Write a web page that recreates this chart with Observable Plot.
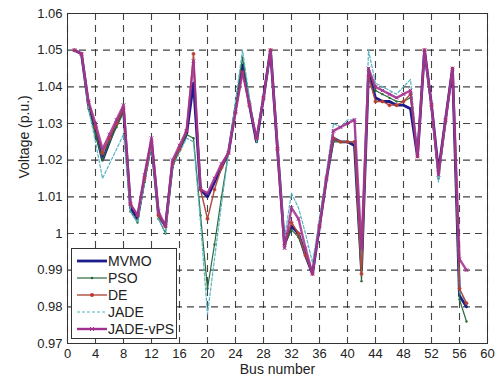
<!DOCTYPE html>
<html>
<head>
<meta charset="utf-8">
<script src="https://cdn.jsdelivr.net/npm/d3@7"></script>
<script src="https://cdn.jsdelivr.net/npm/@observablehq/plot@0.6"></script>
<style>
  html, body { margin: 0; padding: 0; background: #fff; }
  #wrap { position: relative; width: 497px; height: 383px; font-family: "Liberation Sans", Arial, sans-serif; }
  #legend { position: absolute; left: 71px; top: 248px; width: 106px; height: 91px; background: #fff; border: 1px solid #333; box-sizing: border-box; }
  .row { position: absolute; left: 0; height: 17px; display: flex; align-items: center; font-size: 14px; color: #222; }
  .row svg { margin-left: 5px; margin-right: 1px; }
</style>
</head>
<body>
<div id="wrap"><div id="legend"></div></div>
<script>
const buses = [1,2,3,4,5,6,7,8,9,10,11,12,13,14,15,16,17,18,19,20,21,22,23,24,25,26,27,28,29,30,31,32,33,34,35,36,37,38,39,40,41,42,43,44,45,46,47,48,49,50,51,52,53,54,55,56,57];

const mvmo = [1.050,1.049,1.035,1.028,1.020,1.025,1.030,1.034,1.007,1.004,1.015,1.025,1.005,1.002,1.019,1.023,1.027,1.041,1.012,1.010,1.014,1.018,1.022,1.034,1.046,1.035,1.025,1.037,1.050,1.023,0.997,1.002,1.000,0.994,0.989,1.002,1.015,1.026,1.025,1.025,1.024,0.990,1.044,1.037,1.036,1.036,1.035,1.035,1.034,1.021,1.050,1.035,1.017,1.031,1.045,0.983,0.980];
const pso  = [1.050,1.049,1.034,1.027,1.020,1.025,1.029,1.033,1.006,1.003,1.014,1.024,1.004,1.000,1.018,1.023,1.027,1.026,1.005,0.985,0.997,1.010,1.022,1.035,1.048,1.036,1.025,1.037,1.050,1.023,0.997,1.001,0.999,0.994,0.989,1.002,1.015,1.025,1.025,1.025,1.025,0.987,1.045,1.039,1.038,1.037,1.036,1.036,1.037,1.021,1.050,1.034,1.015,1.030,1.045,0.982,0.976];
const de   = [1.050,1.049,1.036,1.029,1.022,1.026,1.030,1.034,1.008,1.005,1.015,1.025,1.005,1.002,1.019,1.023,1.028,1.049,1.012,1.004,1.012,1.018,1.022,1.033,1.044,1.035,1.026,1.037,1.050,1.023,0.997,1.003,1.000,0.994,0.989,1.002,1.015,1.026,1.025,1.025,1.025,0.989,1.043,1.036,1.036,1.035,1.035,1.036,1.038,1.021,1.050,1.035,1.017,1.031,1.045,0.985,0.981];
const jade = [1.050,1.049,1.034,1.025,1.015,1.019,1.023,1.027,1.006,1.003,1.014,1.024,1.004,1.000,1.018,1.022,1.026,1.025,1.003,0.978,0.993,1.008,1.022,1.036,1.050,1.037,1.025,1.037,1.050,1.024,0.999,1.011,1.007,1.000,0.992,1.004,1.017,1.030,1.029,1.031,1.031,0.992,1.050,1.041,1.040,1.039,1.038,1.040,1.042,1.022,1.050,1.034,1.014,1.030,1.045,0.984,0.981];
const jadevps = [1.050,1.049,1.036,1.030,1.023,1.027,1.031,1.035,1.008,1.005,1.016,1.026,1.006,1.002,1.020,1.024,1.028,1.047,1.012,1.011,1.015,1.019,1.022,1.033,1.044,1.035,1.026,1.037,1.050,1.023,0.996,1.007,1.004,0.996,0.989,1.002,1.015,1.028,1.029,1.030,1.031,0.996,1.045,1.040,1.039,1.038,1.037,1.038,1.039,1.021,1.050,1.035,1.016,1.031,1.045,0.993,0.990];

const seriesNames = ["MVMO","PSO","DE","JADE","JADE-vPS"];
const xTicks = [0,4,8,12,16,20,24,28,32,36,40,44,48,52,56,60];
const yTicks = [0.97,0.98,0.99,1.00,1.01,1.02,1.03,1.04,1.05,1.06];
const yTickLabels = ["0.97","0.98","0.99","1","1.01","1.02","1.03","1.04","1.05","1.06"];
const xLabel = "Bus number";
const yLabel = "Voltage (p.u.)";

const styles = {
  "MVMO":     {stroke: "#1c1c8a", width: 2.8, dash: null},
  "PSO":      {stroke: "#2d6a3a", width: 1.2, dash: null},
  "DE":       {stroke: "#b04a3e", width: 1.4, dash: null},
  "JADE":     {stroke: "#55b4c2", width: 1.2, dash: "3,2"},
  "JADE-vPS": {stroke: "#a3308f", width: 2.4, dash: null}
};

const valuesBy = {"MVMO": mvmo, "PSO": pso, "DE": de, "JADE": jade, "JADE-vPS": jadevps};
const tidy = name => buses.map((b, i) => ({bus: b, v: valuesBy[name][i], s: name}));

const drawOrder = ["MVMO","PSO","JADE","DE","JADE-vPS"];
const marks = [
  Plot.gridX(xTicks, {stroke: "#222", strokeOpacity: 0.85, strokeWidth: 1.1, strokeDasharray: "7,5"}),
  Plot.gridY(yTicks, {stroke: "#222", strokeOpacity: 0.85, strokeWidth: 1.1, strokeDasharray: "7,5"}),
  Plot.axisX(xTicks, {tickSize: 0, tickPadding: 5, fontSize: 13, label: null}),
  Plot.axisY(yTicks, {tickSize: 0, tickPadding: 5, fontSize: 13, tickFormat: d => yTickLabels[yTicks.indexOf(d)], label: null}),
  Plot.text([xLabel], {text: d => d, frameAnchor: "bottom", dy: 30, fontSize: 14, fill: "#222"}),
  Plot.text([yLabel], {text: d => d, frameAnchor: "left", dx: -43, rotate: -90, fontSize: 14, fill: "#222"})
];
for (const name of drawOrder) {
  const st = styles[name];
  marks.push(Plot.line(tidy(name), {x: "bus", y: "v", stroke: st.stroke, strokeWidth: st.width, strokeDasharray: st.dash, strokeLinejoin: "round", strokeOpacity: name === "JADE-vPS" ? 0.88 : 1}));
  if (name === "PSO") marks.push(Plot.dot(tidy(name), {x: "bus", y: "v", r: 1.2, fill: st.stroke}));
  if (name === "DE") marks.push(Plot.dot(tidy(name), {x: "bus", y: "v", r: 1.6, fill: "#c0392b", stroke: st.stroke, strokeWidth: 0.6}));
  if (name === "JADE-vPS") marks.push(Plot.dot(tidy(name), {x: "bus", y: "v", r: 1.8, symbol: "times", stroke: st.stroke, strokeWidth: 1}));
}
marks.push(Plot.frame({stroke: "#333", strokeWidth: 1}));

const chart = Plot.plot({
  width: 497, height: 383,
  marginLeft: 67, marginRight: 10, marginTop: 13, marginBottom: 40,
  x: {domain: [0, 60]},
  y: {domain: [0.97, 1.06]},
  style: {fontFamily: "'Liberation Sans', Arial, sans-serif", fontSize: "13px", color: "#222", background: "#fff"},
  marks
});
document.getElementById("wrap").prepend(chart);

// legend
const legend = document.getElementById("legend");
seriesNames.forEach((name, i) => {
  const st = styles[name];
  const row = document.createElement("div");
  row.className = "row";
  row.style.top = (3 + i * 17.2) + "px";
  let marker = "";
  if (name === "PSO") marker = `<circle cx="15" cy="5" r="1.3" fill="${st.stroke}"/>`;
  if (name === "DE") marker = `<circle cx="15" cy="5" r="2" fill="#c0392b"/>`;
  if (name === "JADE-vPS") marker = `<path d="M13,3L17,7M17,3L13,7" stroke="${st.stroke}" stroke-width="1"/>`;
  row.innerHTML = `<svg width="30" height="10"><line x1="0" y1="5" x2="30" y2="5" stroke="${st.stroke}" stroke-width="${st.width}" ${st.dash ? `stroke-dasharray="${st.dash}"` : ""}/>${marker}</svg><span>${name}</span>`;
  legend.appendChild(row);
});
</script>
</body>
</html>
